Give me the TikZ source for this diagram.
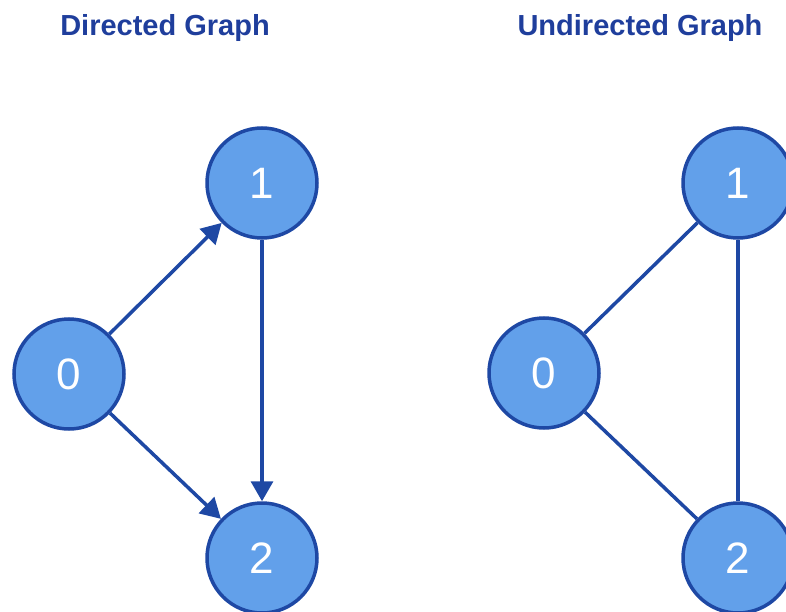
\documentclass[tikz,border=0pt]{standalone}
\usepackage{fontspec}
\setmainfont{Liberation Sans}
\usetikzlibrary{arrows.meta, positioning}
\definecolor{vfill}{HTML}{62A0EA}
\definecolor{vdraw}{HTML}{1E48A4}
\definecolor{ctitle}{HTML}{1F3E9C}

\begin{document}
\begin{tikzpicture}[
    x=1pt, y=-1pt,
    vertex/.style={circle, fill=vfill, draw=vdraw, line width=3.5pt, minimum size=110pt, inner sep=0pt, text=white, font=\fontsize{44}{44}\selectfont},
    heading/.style={text=ctitle, font=\fontsize{29}{29}\selectfont\bfseries},
    edge/.style={draw=vdraw, line width=3.5pt},
    arc/.style={edge, -{Triangle[length=20pt, width=22pt]}},
]
\useasboundingbox (0,0) rectangle (786,612);

% directed
\node[heading] (tdir) at (165,28) {Directed Graph};
\node[vertex] (d0) at (69,374) {0};
\node[vertex] (d1) at (262,183) {1};
\node[vertex] (d2) at (262,558) {2};
\draw[arc] (d0) -- (d1);
\draw[arc] (d0) -- (d2);
\draw[arc] (d1) -- (d2);

% undirected
\node[heading] (tund) at (640,28) {Undirected Graph};
\node[vertex] (u0) at (544,373) {0};
\node[vertex] (u1) at (738,183) {1};
\node[vertex] (u2) at (738,558) {2};
\draw[edge] (u0) -- (u1);
\draw[edge] (u0) -- (u2);
\draw[edge] (u1) -- (u2);

\end{tikzpicture}
\end{document}
